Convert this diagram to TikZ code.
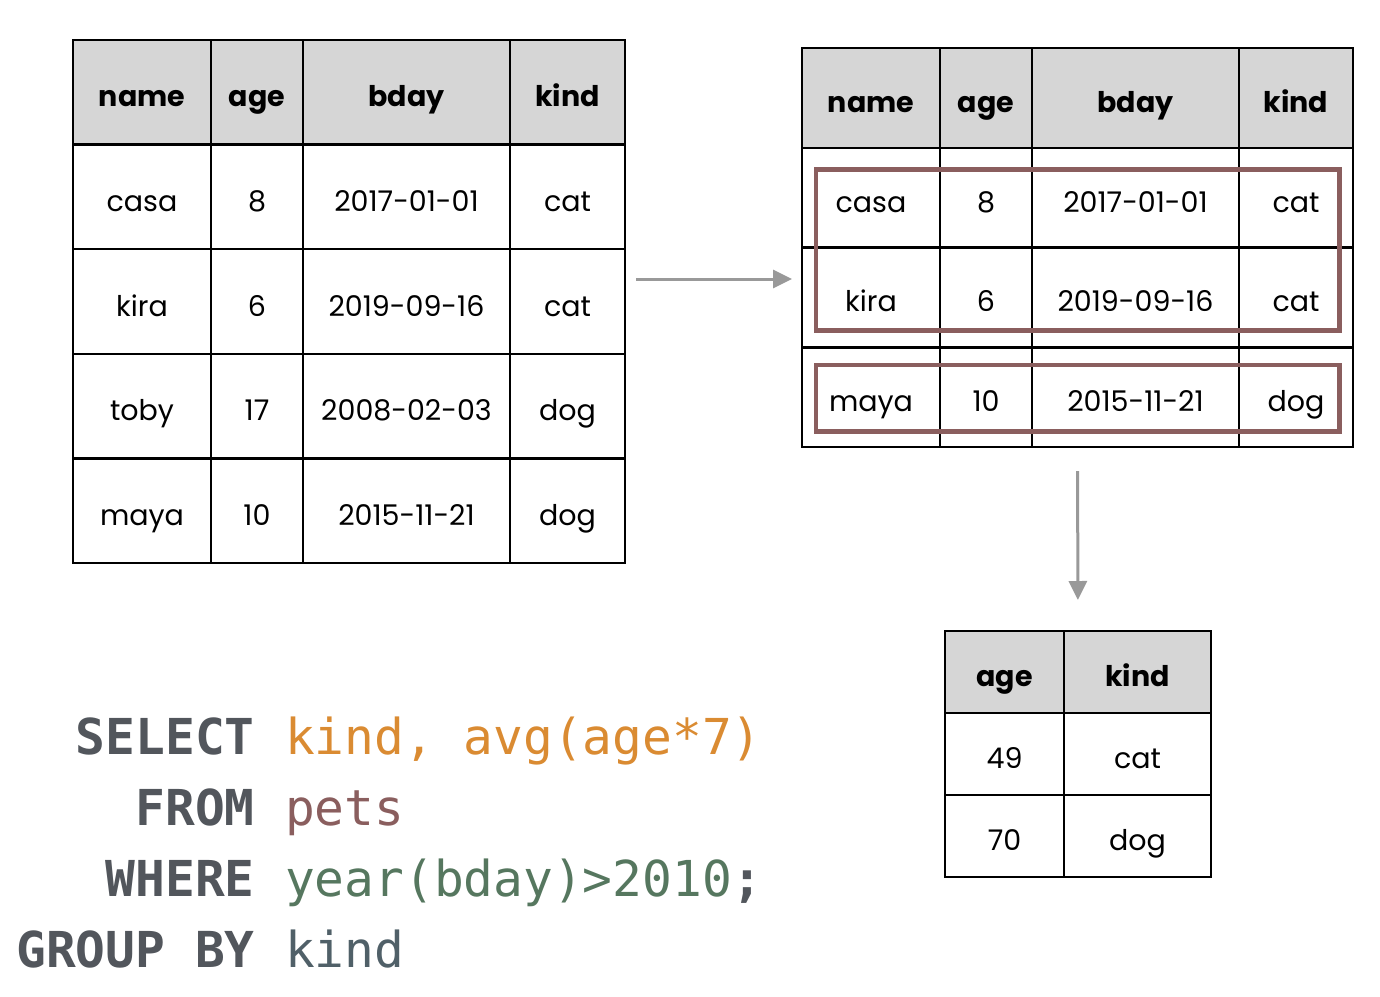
\documentclass[tikz,border=0pt]{standalone}
\usepackage{fontspec}
\setmainfont{Poppins}
\newfontfamily\codefont{DejaVu Sans Mono}
\usetikzlibrary{matrix,arrows.meta,positioning}

\definecolor{headgray}{RGB}{214,214,214}
\definecolor{flowgray}{RGB}{153,153,153}
\definecolor{boxred}{RGB}{138,94,94}
\definecolor{kwgray}{RGB}{82,86,92}
\definecolor{selorange}{RGB}{218,139,50}
\definecolor{wheregreen}{RGB}{86,119,95}
\definecolor{groupslate}{RGB}{80,96,104}

\tikzset{
    pettable/.style={
        matrix of nodes, anchor=north west, inner sep=0pt, outer sep=0pt,
        column sep=-2.5pt, row sep=-2.5pt,
        nodes={draw, line width=2.5pt, anchor=center, inner sep=0pt,
               text height=29pt, text depth=0pt,
               font=\fontsize{28.5}{34}\selectfont}
    },
    headrow/.style={nodes={fill=headgray, font=\fontsize{28.5}{34}\selectfont\bfseries}},
    flow/.style={draw=flowgray, line width=3pt, -{Triangle[length=19pt,width=18pt]}},
    hilite/.style={draw=boxred, line width=4.5pt},
    keyword/.style={anchor=base east, inner sep=0pt, text=kwgray,
                    font=\fontsize{49.5}{59}\codefont\bfseries},
    code/.style={inner sep=0pt, font=\fontsize{49.5}{59}\codefont}
}

\begin{document}
\begin{tikzpicture}[x=1pt, y=-1pt]
    \useasboundingbox (0,0) rectangle (1380,996);

    % pets table
    \matrix (ltab) [pettable,
        row 1/.style={headrow},
        nodes={minimum height=104.6pt},
        column 1/.style={nodes={minimum width=138pt}},
        column 2/.style={nodes={minimum width=92pt}},
        column 3/.style={nodes={minimum width=207pt}},
        column 4/.style={nodes={minimum width=115pt}}
    ] at (71.75,38.75) {
        name & age & bday & kind \\
        casa & 8 & 2017-01-01 & cat \\
        kira & 6 & 2019-09-16 & cat \\
        toby & 17 & 2008-02-03 & dog \\
        maya & 10 & 2015-11-21 & dog \\
    };

    % rows after WHERE
    \matrix (rtab) [pettable,
        row 1/.style={headrow},
        nodes={minimum height=99.75pt},
        column 1/.style={nodes={minimum width=138pt}},
        column 2/.style={nodes={minimum width=92pt}},
        column 3/.style={nodes={minimum width=207pt}},
        column 4/.style={nodes={minimum width=114pt}}
    ] at (800.75,46.75) {
        name & age & bday & kind \\
        casa & 8 & 2017-01-01 & cat \\
        kira & 6 & 2019-09-16 & cat \\
        maya & 10 & 2015-11-21 & dog \\
    };

    % groups
    \draw[hilite] ([xshift=13.75pt,yshift=-21.75pt]rtab-2-1.north west)
        rectangle ([xshift=-13.75pt,yshift=16.75pt]rtab-3-4.south east);
    \draw[hilite] ([xshift=13.75pt,yshift=-17.75pt]rtab-4-1.north west)
        rectangle ([xshift=-13.75pt,yshift=15.75pt]rtab-4-4.south east);

    % result
    \matrix (gtab) [pettable,
        row 1/.style={headrow},
        nodes={minimum height=82pt},
        column 1/.style={nodes={minimum width=119pt}},
        column 2/.style={nodes={minimum width=147pt}}
    ] at (943.75,629.75) {
        age & kind \\
        49 & cat \\
        70 & dog \\
    };

    \draw[flow, shorten <=9.75pt, shorten >=8.75pt] (ltab.east |- 0,279) -- (rtab.west |- 0,279);
    \draw[flow, shorten <=22.75pt, shorten >=29.75pt] (rtab.south) -- (gtab.north);

    % the query
    \node[keyword] (select) at (255,754) {SELECT};
    \node[code, text=selorange, base right=29.8pt of select] (selcols) {kind, avg(age*7)};
    \node[keyword] (from) at (255,825) {FROM};
    \node[code, text=boxred, base right=29.8pt of from] (fromtab) {pets};
    \node[keyword] (where) at (255,896) {WHERE};
    \node[code, text=wheregreen, base right=29.8pt of where] (wherecond) {year(bday)>2010{\bfseries\color{kwgray};}};
    \node[keyword] (group) at (255,967) {GROUP BY};
    \node[code, text=groupslate, base right=29.8pt of group] (groupcol) {kind};
\end{tikzpicture}
\end{document}
